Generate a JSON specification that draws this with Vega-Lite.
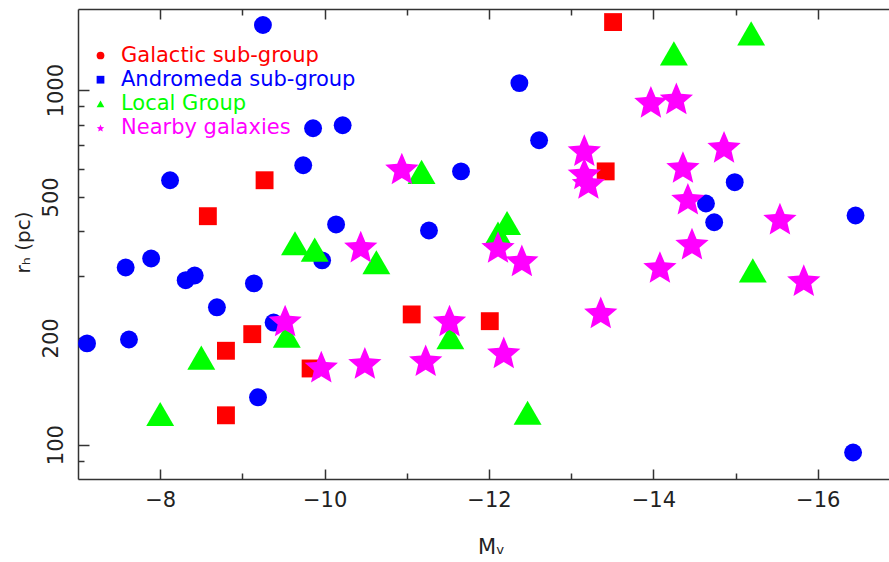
{
  "$schema": "https://vega.github.io/schema/vega-lite/v6.json",
  "width": 811,
  "height": 470,
  "autosize": {"type": "none"},
  "padding": {"left": 78, "top": 9, "right": 0, "bottom": 83},
  "background": "white",
  "config": {
    "view": {"stroke": null},
    "font": "DejaVu Sans",
    "axis": {
      "grid": false,
      "domainColor": "#333",
      "domainWidth": 1.5,
      "tickColor": "#333",
      "tickWidth": 1.5,
      "labelFont": "DejaVu Sans",
      "labelFontSize": 21,
      "labelColor": "#222",
      "labelFlush": false,
      "labelOverlap": false,
      "titleFont": "DejaVu Sans",
      "titleFontWeight": "normal",
      "titleColor": "#222"
    }
  },
  "data": {
    "values": [
      {"group": "Galactic sub-group", "MV": -13.51, "rh": 1556},
      {"group": "Galactic sub-group", "MV": -8.58, "rh": 441},
      {"group": "Galactic sub-group", "MV": -9.27, "rh": 557},
      {"group": "Galactic sub-group", "MV": -13.42, "rh": 590},
      {"group": "Galactic sub-group", "MV": -11.06, "rh": 233},
      {"group": "Galactic sub-group", "MV": -12.01, "rh": 223},
      {"group": "Galactic sub-group", "MV": -9.12, "rh": 205},
      {"group": "Galactic sub-group", "MV": -8.80, "rh": 184},
      {"group": "Galactic sub-group", "MV": -9.83, "rh": 164},
      {"group": "Galactic sub-group", "MV": -8.80, "rh": 121},
      {"group": "Andromeda sub-group", "MV": -7.11, "rh": 193},
      {"group": "Andromeda sub-group", "MV": -7.58, "rh": 316},
      {"group": "Andromeda sub-group", "MV": -7.62, "rh": 198},
      {"group": "Andromeda sub-group", "MV": -7.89, "rh": 335},
      {"group": "Andromeda sub-group", "MV": -8.12, "rh": 557},
      {"group": "Andromeda sub-group", "MV": -8.31, "rh": 291},
      {"group": "Andromeda sub-group", "MV": -8.42, "rh": 300},
      {"group": "Andromeda sub-group", "MV": -8.69, "rh": 244},
      {"group": "Andromeda sub-group", "MV": -9.14, "rh": 285},
      {"group": "Andromeda sub-group", "MV": -9.25, "rh": 1527},
      {"group": "Andromeda sub-group", "MV": -9.19, "rh": 136},
      {"group": "Andromeda sub-group", "MV": -9.38, "rh": 221},
      {"group": "Andromeda sub-group", "MV": -9.74, "rh": 614},
      {"group": "Andromeda sub-group", "MV": -9.86, "rh": 781},
      {"group": "Andromeda sub-group", "MV": -9.97, "rh": 331},
      {"group": "Andromeda sub-group", "MV": -10.14, "rh": 418},
      {"group": "Andromeda sub-group", "MV": -10.22, "rh": 796},
      {"group": "Andromeda sub-group", "MV": -11.27, "rh": 402},
      {"group": "Andromeda sub-group", "MV": -11.66, "rh": 590},
      {"group": "Andromeda sub-group", "MV": -12.37, "rh": 1047},
      {"group": "Andromeda sub-group", "MV": -12.61, "rh": 722},
      {"group": "Andromeda sub-group", "MV": -14.64, "rh": 479},
      {"group": "Andromeda sub-group", "MV": -14.74, "rh": 424},
      {"group": "Andromeda sub-group", "MV": -14.99, "rh": 550},
      {"group": "Andromeda sub-group", "MV": -16.46, "rh": 443},
      {"group": "Andromeda sub-group", "MV": -16.43, "rh": 95},
      {"group": "Local Group", "MV": -15.19, "rh": 1446},
      {"group": "Local Group", "MV": -14.25, "rh": 1270},
      {"group": "Local Group", "MV": -11.18, "rh": 588},
      {"group": "Local Group", "MV": -12.22, "rh": 422},
      {"group": "Local Group", "MV": -12.11, "rh": 394},
      {"group": "Local Group", "MV": -9.64, "rh": 370},
      {"group": "Local Group", "MV": -9.88, "rh": 355},
      {"group": "Local Group", "MV": -10.63, "rh": 327},
      {"group": "Local Group", "MV": -15.21, "rh": 310},
      {"group": "Local Group", "MV": -9.54, "rh": 203},
      {"group": "Local Group", "MV": -11.53, "rh": 201},
      {"group": "Local Group", "MV": -8.50, "rh": 176},
      {"group": "Local Group", "MV": -8.00, "rh": 122},
      {"group": "Local Group", "MV": -12.47, "rh": 123},
      {"group": "Nearby galaxies", "MV": -10.94, "rh": 601},
      {"group": "Nearby galaxies", "MV": -10.44, "rh": 362},
      {"group": "Nearby galaxies", "MV": -9.52, "rh": 224},
      {"group": "Nearby galaxies", "MV": -9.96, "rh": 166},
      {"group": "Nearby galaxies", "MV": -10.49, "rh": 170},
      {"group": "Nearby galaxies", "MV": -11.23, "rh": 173},
      {"group": "Nearby galaxies", "MV": -11.52, "rh": 224},
      {"group": "Nearby galaxies", "MV": -12.11, "rh": 361},
      {"group": "Nearby galaxies", "MV": -12.18, "rh": 182},
      {"group": "Nearby galaxies", "MV": -12.40, "rh": 331},
      {"group": "Nearby galaxies", "MV": -13.16, "rh": 677},
      {"group": "Nearby galaxies", "MV": -13.16, "rh": 582},
      {"group": "Nearby galaxies", "MV": -13.21, "rh": 547},
      {"group": "Nearby galaxies", "MV": -13.36, "rh": 236},
      {"group": "Nearby galaxies", "MV": -13.97, "rh": 927},
      {"group": "Nearby galaxies", "MV": -14.28, "rh": 948},
      {"group": "Nearby galaxies", "MV": -14.08, "rh": 317},
      {"group": "Nearby galaxies", "MV": -14.36, "rh": 607},
      {"group": "Nearby galaxies", "MV": -14.42, "rh": 494},
      {"group": "Nearby galaxies", "MV": -14.47, "rh": 369},
      {"group": "Nearby galaxies", "MV": -14.86, "rh": 692},
      {"group": "Nearby galaxies", "MV": -15.54, "rh": 434},
      {"group": "Nearby galaxies", "MV": -15.83, "rh": 291}
    ]
  },
  "layer": [
    {
      "mark": {"type": "point", "filled": true, "opacity": 1, "strokeWidth": 0},
      "encoding": {
        "x": {
          "field": "MV",
          "type": "quantitative",
          "scale": {"domain": [-7, -16.867], "nice": false, "zero": false},
          "axis": {
            "orient": "bottom",
            "values": [-8, -10, -12, -14, -16],
            "format": "d",
            "labelPadding": 20,
            "tickSize": -10,
            "title": "Mᵥ",
            "titleFontSize": 21,
            "titleX": 413,
            "titleY": 74,
            "titleAlign": "center",
            "titleBaseline": "alphabetic"
          }
        },
        "y": {
          "field": "rh",
          "type": "quantitative",
          "scale": {"type": "log", "domain": [80, 1694], "nice": false},
          "axis": {
            "orient": "left",
            "values": [100, 1000],
            "labelExpr": "datum.value == 100 ? '100' : '1000'",
            "labelAngle": 270,
            "labelAlign": "center",
            "labelBaseline": "bottom",
            "labelPadding": 23,
            "tickSize": -11,
            "title": "rₕ  (pc)",
            "titleFontSize": 20,
            "titleAngle": 270,
            "titleX": -49,
            "titleY": 233,
            "titleAlign": "center",
            "titleBaseline": "alphabetic"
          }
        },
        "color": {
          "field": "group",
          "type": "nominal",
          "scale": {
            "domain": ["Galactic sub-group", "Andromeda sub-group", "Local Group", "Nearby galaxies"],
            "range": ["#ff0000", "#0000ff", "#00ff00", "#ff00ff"]
          },
          "legend": {
            "orient": "none",
            "legendX": 12,
            "legendY": 36,
            "title": null,
            "padding": 0,
            "labelFont": "DejaVu Sans",
            "labelFontSize": 21,
            "labelOffset": 10,
            "labelLimit": 400,
            "rowPadding": 2.2,
            "symbolSize": 60,
            "symbolStrokeWidth": 0,
            "labelColor": {"expr": "scale('color', datum.value)"},
            "symbolType": {"expr": "datum.value == 'Galactic sub-group' ? 'circle' : datum.value == 'Andromeda sub-group' ? 'square' : datum.value == 'Local Group' ? 'triangle-up' : 'M0,-0.905L0.265,-0.269L0.951,-0.214L0.428,0.234L0.588,0.904L0,0.545L-0.588,0.904L-0.428,0.234L-0.951,-0.214L-0.265,-0.269Z'"}
          }
        },
        "shape": {
          "field": "group",
          "type": "nominal",
          "scale": {
            "domain": ["Andromeda sub-group", "Galactic sub-group", "Local Group", "Nearby galaxies"],
            "range": ["circle", "square", "triangle-up", "M0,-0.905L0.265,-0.269L0.951,-0.214L0.428,0.234L0.588,0.904L0,0.545L-0.588,0.904L-0.428,0.234L-0.951,-0.214L-0.265,-0.269Z"]
          },
          "legend": null
        },
        "size": {
          "condition": [
            {"test": "datum.group == 'Local Group'", "value": 780},
            {"test": "datum.group == 'Nearby galaxies'", "value": 1225}
          ],
          "value": 320
        }
      }
    },
    {
      "mark": {"type": "point", "opacity": 0},
      "encoding": {
        "x": {
          "field": "MV",
          "type": "quantitative",
          "scale": {"domain": [-7, -16.867], "nice": false, "zero": false},
          "axis": {
            "orient": "bottom",
            "values": [-9, -11, -13, -15],
            "labels": false,
            "domain": false,
            "tickSize": -6,
            "title": null
          }
        },
        "y": {
          "field": "rh",
          "type": "quantitative",
          "scale": {"type": "log", "domain": [80, 1694], "nice": false},
          "axis": {
            "orient": "left",
            "values": [90, 200, 300, 400, 500, 600, 700, 800, 900],
            "labelExpr": "datum.value == 200 ? '200' : datum.value == 500 ? '500' : ''",
            "labelAngle": 270,
            "labelAlign": "center",
            "labelBaseline": "bottom",
            "labelPadding": 23,
            "domain": false,
            "tickSize": -6,
            "title": null
          }
        }
      }
    },
    {
      "mark": {"type": "point", "opacity": 0},
      "encoding": {
        "x": {
          "field": "MV",
          "type": "quantitative",
          "scale": {"domain": [-7, -16.867], "nice": false, "zero": false},
          "axis": {
            "orient": "top",
            "values": [-8, -10, -12, -14, -16],
            "labels": false,
            "tickSize": -10,
            "title": null
          }
        }
      }
    },
    {
      "mark": {"type": "point", "opacity": 0},
      "encoding": {
        "x": {
          "field": "MV",
          "type": "quantitative",
          "scale": {"domain": [-7, -16.867], "nice": false, "zero": false},
          "axis": {
            "orient": "top",
            "values": [-9, -11, -13, -15],
            "labels": false,
            "domain": false,
            "tickSize": -6,
            "title": null
          }
        }
      }
    }
  ],
  "resolve": {"axis": {"x": "independent", "y": "independent"}}
}
